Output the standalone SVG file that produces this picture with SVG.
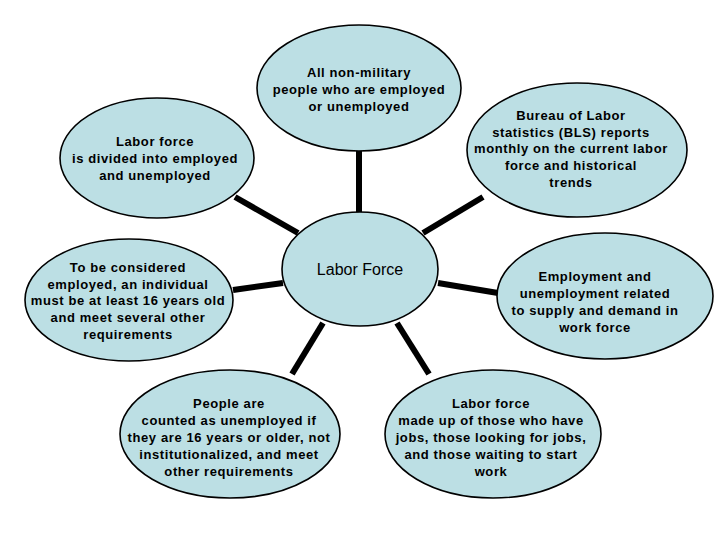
<svg xmlns="http://www.w3.org/2000/svg" width="720" height="540" viewBox="0 0 720 540">
<style>
.n{fill:#bcdfe4;stroke:#000;stroke-width:1.6}
.t{font-family:"Liberation Sans",Arial,sans-serif;font-size:13px;font-weight:bold;letter-spacing:0.6px;fill:#000;text-anchor:middle}
.c{font-family:"Liberation Sans",Arial,sans-serif;font-size:16px;fill:#000;text-anchor:middle}
.e{stroke:#000;stroke-width:6;stroke-linecap:butt}
</style>
<rect width="720" height="540" fill="#fff"/>
<g id="connectors">
<line class="e" x1="359" y1="150" x2="359" y2="213"/>
<line class="e" x1="235" y1="197" x2="298" y2="233"/>
<line class="e" x1="483" y1="197" x2="423" y2="233"/>
<line class="e" x1="233" y1="290" x2="283" y2="283"/>
<line class="e" x1="438" y1="283" x2="498" y2="293"/>
<line class="e" x1="323" y1="323" x2="292" y2="374"/>
<line class="e" x1="397" y1="323" x2="429" y2="374"/>
</g>
<g id="top">
<ellipse class="n" cx="359" cy="88" rx="102" ry="63"/>
<text class="t" x="359" y="77">All non-military</text>
<text class="t" x="359" y="94">people who are employed</text>
<text class="t" x="359" y="111">or unemployed</text>
</g>
<g id="upper-left">
<ellipse class="n" cx="157" cy="158" rx="97" ry="60"/>
<text class="t" x="155" y="146">Labor force</text>
<text class="t" x="155" y="163">is divided into employed</text>
<text class="t" x="155" y="180">and unemployed</text>
</g>
<g id="upper-right">
<ellipse class="n" cx="577" cy="150" rx="110" ry="67"/>
<text class="t" x="571" y="120">Bureau of Labor</text>
<text class="t" x="571" y="137">statistics (BLS) reports</text>
<text class="t" x="571" y="153">monthly on the current labor</text>
<text class="t" x="571" y="170">force and historical</text>
<text class="t" x="571" y="187">trends</text>
</g>
<g id="left">
<ellipse class="n" cx="129" cy="300" rx="104" ry="61"/>
<text class="t" x="128" y="272">To be considered</text>
<text class="t" x="128" y="289">employed, an individual</text>
<text class="t" x="128" y="305">must be at least 16 years old</text>
<text class="t" x="128" y="322">and meet several other</text>
<text class="t" x="128" y="339">requirements</text>
</g>
<g id="center">
<ellipse class="n" cx="360" cy="269" rx="78" ry="57"/>
<text class="c" x="360" y="275">Labor Force</text>
</g>
<g id="right">
<ellipse class="n" cx="605" cy="296" rx="108" ry="63"/>
<text class="t" x="595" y="281">Employment and</text>
<text class="t" x="595" y="298">unemployment related</text>
<text class="t" x="595" y="315">to supply and demand in</text>
<text class="t" x="595" y="332">work force</text>
</g>
<g id="bottom-left">
<ellipse class="n" cx="230" cy="434" rx="110" ry="64"/>
<text class="t" x="229" y="408">People are</text>
<text class="t" x="229" y="425">counted as unemployed if</text>
<text class="t" x="229" y="442">they are 16 years or older, not</text>
<text class="t" x="229" y="459">institutionalized, and meet</text>
<text class="t" x="229" y="476">other requirements</text>
</g>
<g id="bottom-right">
<ellipse class="n" cx="493" cy="434" rx="108" ry="64"/>
<text class="t" x="491" y="408">Labor force</text>
<text class="t" x="491" y="425">made up of those who have</text>
<text class="t" x="491" y="442">jobs, those looking for jobs,</text>
<text class="t" x="491" y="459">and those waiting to start</text>
<text class="t" x="491" y="476">work</text>
</g>
</svg>
